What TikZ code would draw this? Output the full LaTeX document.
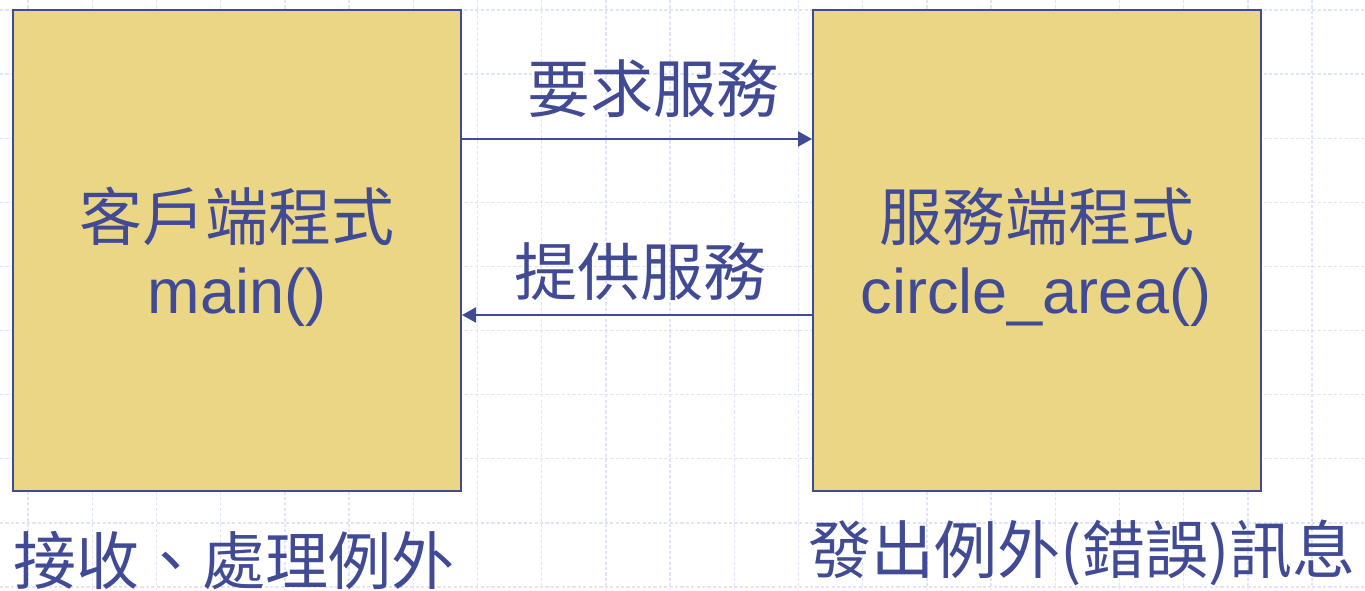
\documentclass[tikz,border=0pt]{standalone}
\usepackage{fontspec}
\newfontfamily\cjk{Noto Sans CJK TC}
\newfontfamily\lat{Liberation Sans}
\usetikzlibrary{arrows.meta}
\definecolor{boxfill}{HTML}{EAD684}
\definecolor{ink}{HTML}{414A94}
\definecolor{gridc}{HTML}{DFE5F8}
\tikzset{
  box/.style={draw=ink, line width=1pt, fill=boxfill, minimum width=224pt, minimum height=240.5pt, inner sep=0pt},
  cjktext/.style={text=ink, font=\cjk\fontsize{31.5}{36}\selectfont, inner sep=0pt, anchor=base},
  lattext/.style={text=ink, font=\lat\fontsize{31.5}{36}\selectfont, inner sep=0pt, anchor=base},
  link/.style={draw=ink, line width=1pt, -{Triangle[length=7pt,width=7.5pt]}},
  gridline/.style={draw=gridc, line width=0.7pt, dash pattern=on 1.6pt off 1.1pt}
}
\begin{document}
\begin{tikzpicture}[x=0.5pt,y=-0.5pt]
\useasboundingbox[fill=white] (0,0) rectangle (1365,590);
% background grid
\foreach \k in {0,...,20} { \draw[gridline] ({28+64.2*\k},0) -- ({28+64.2*\k},590); }
\foreach \k in {0,...,9} { \draw[gridline] (0,{10+64.1*\k}) -- (1365,{10+64.1*\k}); }
% boxes
\node[box] (L) at (237,250.5) {};
\node[box] (R) at (1037,250.5) {};
% box texts
\node[cjktext] (Lt) at (237,240) {客戶端程式};
\node[lattext] (Lf) at (237,313) {main()};
\node[cjktext] (Rt) at (1037,240) {服務端程式};
\node[lattext] (Rf) at (1036,313) {circle\_area()};
% arrows
\coordinate (a1) at (0,139);
\coordinate (a2) at (0,315);
\draw[link] (L.east |- a1) -- (R.west |- a1);
\draw[link] (R.west |- a2) -- (L.east |- a2);
\node[cjktext] (req) at (653,112) {要求服務};
\node[cjktext] (prov) at (640,295) {提供服務};
% bottom labels
\node[cjktext, anchor=base west] (bl) at (13,584) {接收、處理例外};
\node[cjktext] (br) at (1082,573) {發出例外(錯誤)訊息};
\end{tikzpicture}
\end{document}
